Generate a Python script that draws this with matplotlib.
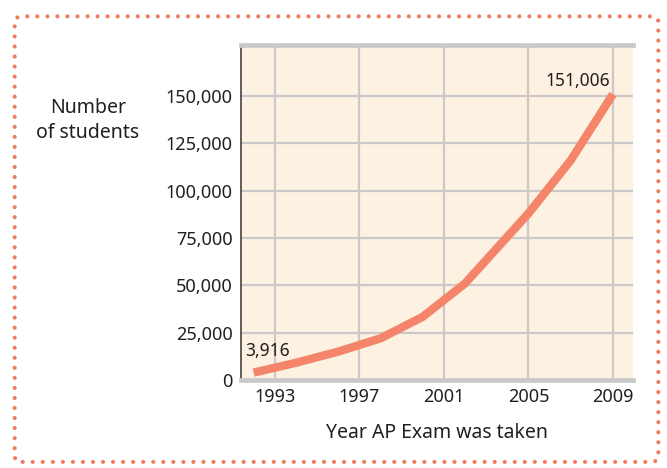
import matplotlib
matplotlib.use("Agg")
import matplotlib.pyplot as plt
from matplotlib.patches import FancyBboxPatch
from matplotlib.ticker import FuncFormatter

# ---- data ----
years = [1992, 1994, 1996, 1998, 2000, 2002, 2005, 2007, 2009]
students = [3916, 9100, 15000, 22000, 33400, 51000, 88000, 116000, 151006]
xticks = [1993, 1997, 2001, 2005, 2009]
yticks = [0, 25000, 50000, 75000, 100000, 125000, 150000]

LINE = "#f4846a"
GRID = "#c9c9c9"
TXT = "#231f20"

plt.rcParams["font.family"] = ["Noto Sans", "DejaVu Sans"]

fig = plt.figure(figsize=(6.67, 4.68), dpi=100)
ax = fig.add_axes([0.3613, 0.188, 0.5877, 0.7158])
ax.set_facecolor("#fdf1e1")

ax.plot(years, students, color=LINE, lw=6, solid_capstyle="butt", solid_joinstyle="round", zorder=3)

ax.set_xlim(1991.4, 2009.95)
ax.set_ylim(0, 177000)
ax.set_xticks(xticks)
ax.set_yticks(yticks)
ax.yaxis.set_major_formatter(FuncFormatter(lambda v, p: f"{int(v):,}"))
ax.grid(True, color=GRID, lw=1.6, zorder=1)
ax.set_axisbelow(True)
ax.tick_params(length=0, labelsize=13, colors=TXT, pad=6)

for s in ("top", "bottom"):
    ax.spines[s].set_color(GRID)
    ax.spines[s].set_linewidth(3.4)
ax.spines["right"].set_visible(False)
ax.spines["left"].set_color("#333333")
ax.spines["left"].set_linewidth(1.1)

ax.annotate(f"{students[0]:,}", (years[0], students[0]), xytext=(-6, 9),
            textcoords="offset points", fontsize=12.5, color=TXT, ha="left", va="bottom")
ax.annotate(f"{students[-1]:,}", (years[-1], students[-1]), xytext=(-2, 3),
            textcoords="offset points", fontsize=12.5, color=TXT, ha="right", va="bottom")

fig.text(0.132, 0.743, "Number\nof students", ha="center", va="center",
         fontsize=14, color=TXT, linespacing=1.35)
ax.set_xlabel("Year AP Exam was taken", fontsize=14, color=TXT, labelpad=12)

border = FancyBboxPatch((0.022, 0.013), 0.965, 0.952, boxstyle="round,pad=0,rounding_size=0.012",
                        transform=fig.transFigure, fill=False, edgecolor="#f07d5e",
                        lw=3, linestyle=(0, (0.01, 2.4)))
border.set_capstyle("round")
fig.patches.append(border)

fig.savefig("out.png", dpi=100)
